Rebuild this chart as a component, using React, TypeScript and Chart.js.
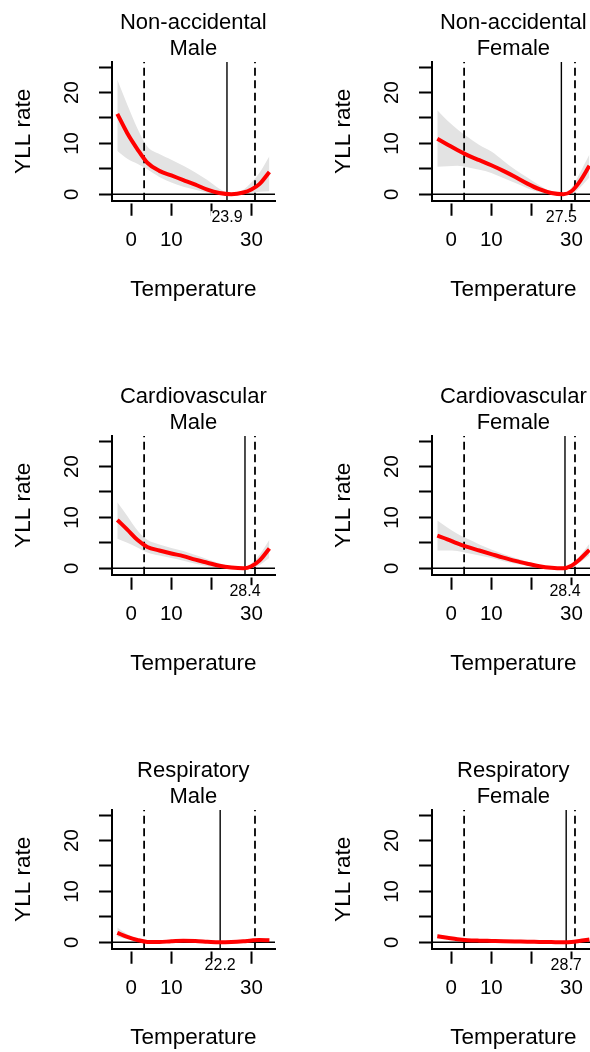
import React, { useEffect, useRef } from 'react';
import { Chart, registerables } from 'chart.js';

Chart.register(...registerables);
Chart.defaults.font.family = "'Liberation Sans', Arial, sans-serif";
Chart.defaults.color = '#000';

// ---- data ----
const TEMPS = [-3.5, -1, 1.5, 4, 7, 10, 13, 16, 19, 22, 25, 28, 30, 32, 34.5];

const CAUSES = ['Non-accidental', 'Non-accidental', 'Cardiovascular', 'Cardiovascular', 'Respiratory', 'Respiratory'];
const SEXES = ['Male', 'Female', 'Male', 'Female', 'Male', 'Female'];
const MMT = [23.9, 27.5, 28.4, 28.4, 22.2, 28.7];
const P_LOW = 3.2;
const P_HIGH = 30.9;

const NA_MALE_EST = [15.8, 12.0, 8.9, 6.2, 4.6, 3.7, 2.8, 1.9, 0.9, 0.25, 0.02, 0.35, 0.95, 2.0, 4.4];
const NA_MALE_HI = [22.5, 17.6, 13.0, 9.4, 7.9, 6.8, 5.6, 4.3, 2.8, 1.1, 0.1, 0.9, 2.3, 4.2, 7.5];
const NA_MALE_LO = [8.5, 7.0, 6.0, 4.9, 3.4, 2.3, 1.5, 0.9, 0.3, 0, 0, 0, 0.3, 0.5, 0.6];

const NA_FEMALE_EST = [10.9, 9.8, 8.7, 7.7, 6.7, 5.7, 4.6, 3.4, 2.1, 1.0, 0.25, 0.02, 0.6, 2.4, 5.6];
const NA_FEMALE_HI = [16.5, 14.5, 12.8, 11.3, 9.7, 8.4, 6.6, 4.8, 3.3, 1.8, 0.5, 0.1, 1.3, 4.0, 7.8];
const NA_FEMALE_LO = [5.4, 5.5, 5.6, 5.3, 4.8, 4.2, 3.2, 2.2, 1.2, 0.4, 0, 0, 0.1, 1.2, 3.3];

const CV_MALE_EST = [9.5, 7.6, 5.6, 4.2, 3.5, 2.9, 2.4, 1.7, 1.1, 0.5, 0.15, 0.0, 0.4, 1.5, 3.9];
const CV_MALE_HI = [13.0, 10.3, 7.5, 5.6, 4.7, 4.0, 3.4, 2.6, 1.8, 1.0, 0.4, 0.05, 1.0, 2.6, 5.6];
const CV_MALE_LO = [5.8, 5.0, 4.1, 3.1, 2.5, 2.0, 1.5, 0.9, 0.4, 0.1, 0, 0, 0.1, 0.6, 2.0];

const CV_FEMALE_EST = [6.4, 5.7, 4.9, 4.2, 3.5, 2.8, 2.1, 1.45, 0.9, 0.4, 0.1, 0.0, 0.5, 1.7, 3.6];
const CV_FEMALE_HI = [9.4, 8.0, 6.8, 5.8, 4.7, 3.7, 2.8, 2.0, 1.3, 0.7, 0.2, 0.05, 0.9, 2.3, 4.8];
const CV_FEMALE_LO = [3.5, 3.5, 3.4, 3.0, 2.5, 2.0, 1.4, 0.9, 0.5, 0.15, 0, 0, 0.2, 1.1, 2.5];

const RESP_MALE_EST = [1.85, 1.05, 0.45, 0.08, 0.05, 0.2, 0.28, 0.26, 0.12, 0.0, 0.05, 0.2, 0.35, 0.45, 0.4];
const RESP_MALE_HI = [2.9, 1.6, 0.75, 0.25, 0.2, 0.35, 0.45, 0.42, 0.25, 0.05, 0.15, 0.4, 0.65, 0.8, 0.85];
const RESP_MALE_LO = [1.1, 0.6, 0.25, 0.0, 0.0, 0.05, 0.1, 0.1, 0.0, 0.0, 0.0, 0.05, 0.1, 0.15, 0.05];

const RESP_FEMALE_EST = [1.2, 0.9, 0.6, 0.42, 0.32, 0.26, 0.2, 0.16, 0.13, 0.08, 0.04, 0.0, 0.05, 0.25, 0.55];
const RESP_FEMALE_HI = [1.65, 1.15, 0.8, 0.6, 0.45, 0.38, 0.3, 0.25, 0.22, 0.16, 0.1, 0.02, 0.15, 0.45, 0.85];
const RESP_FEMALE_LO = [0.8, 0.65, 0.45, 0.28, 0.2, 0.15, 0.1, 0.08, 0.05, 0.02, 0, 0, 0, 0.1, 0.3];

const EST = [NA_MALE_EST, NA_FEMALE_EST, CV_MALE_EST, CV_FEMALE_EST, RESP_MALE_EST, RESP_FEMALE_EST];
const HI = [NA_MALE_HI, NA_FEMALE_HI, CV_MALE_HI, CV_FEMALE_HI, RESP_MALE_HI, RESP_FEMALE_HI];
const LO = [NA_MALE_LO, NA_FEMALE_LO, CV_MALE_LO, CV_FEMALE_LO, RESP_MALE_LO, RESP_FEMALE_LO];

const X_TICKS = [0, 10, 20, 30];
const X_TICK_LABELS = ['0', '10', '', '30'];
const Y_TICKS = [0, 5, 10, 15, 20, 25];
const Y_TICK_LABELS = ['0', '', '10', '', '20', ''];
const X_MIN = -4.9;
const X_MAX = 35.9;
const Y_MIN = -1.26;
const Y_MAX = 26.0;

// ---- layout ----
const PANEL_W = 321;
const PANEL_H = 374;
const COL_LEFT = [0, 320];
const ROW_TOP = [0, 374, 748];

const mmtLabelPlugin = {
  id: 'mmtLabel',
  afterDraw(chart: any, _args: any, opts: any) {
    const { ctx, chartArea, scales } = chart;
    const v = opts.value as number;
    const x = scales.x.getPixelForValue(v);
    const y = chartArea.bottom + 17;
    const txt = v.toFixed(1);
    ctx.save();
    ctx.font = "16px 'Liberation Sans', Arial, sans-serif";
    const w = ctx.measureText(txt).width;
    ctx.fillStyle = '#fff';
    ctx.fillRect(x - w / 2 - 1, chartArea.bottom + 10.5, w + 2, 14);
    ctx.fillStyle = '#000';
    ctx.textAlign = 'center';
    ctx.textBaseline = 'middle';
    ctx.fillText(txt, x, y);
    ctx.restore();
  },
};

function buildConfig(i: number): any {
  const pts = (arr: number[]) => TEMPS.map((t, k) => ({ x: t, y: arr[k] }));
  const vline = (v: number) => [{ x: v, y: Y_MIN }, { x: v, y: Y_MAX }];
  return {
    type: 'line',
    data: {
      datasets: [
        {
          data: pts(EST[i]),
          borderColor: '#ff0000',
          borderWidth: 4,
          pointRadius: 0,
          cubicInterpolationMode: 'monotone',
          fill: false,
          order: 0,
        },
        {
          data: vline(P_LOW),
          borderColor: '#000',
          borderWidth: 1.8,
          borderDash: [8, 4.5],
          pointRadius: 0,
          tension: 0,
          fill: false,
          order: 1,
        },
        {
          data: vline(P_HIGH),
          borderColor: '#000',
          borderWidth: 1.8,
          borderDash: [8, 4.5],
          pointRadius: 0,
          tension: 0,
          fill: false,
          order: 1,
        },
        {
          data: vline(MMT[i]),
          borderColor: '#000',
          borderWidth: 1.4,
          pointRadius: 0,
          tension: 0,
          fill: false,
          order: 1,
        },
        {
          data: [{ x: X_MIN, y: 0 }, { x: X_MAX, y: 0 }],
          borderColor: '#000',
          borderWidth: 1.6,
          pointRadius: 0,
          tension: 0,
          fill: false,
          order: 2,
        },
        {
          data: pts(HI[i]),
          borderWidth: 0,
          borderColor: 'rgba(0,0,0,0)',
          backgroundColor: '#e3e3e3',
          pointRadius: 0,
          cubicInterpolationMode: 'monotone',
          fill: '+1',
          order: 3,
        },
        {
          data: pts(LO[i]),
          borderWidth: 0,
          borderColor: 'rgba(0,0,0,0)',
          pointRadius: 0,
          cubicInterpolationMode: 'monotone',
          fill: false,
          order: 4,
        },
      ],
    },
    options: {
      responsive: false,
      animation: false,
      devicePixelRatio: 1,
      layout: { padding: { left: 0, right: 46, top: 0, bottom: 0 } },
      plugins: {
        legend: { display: false },
        tooltip: { enabled: false },
        title: {
          display: true,
          fullSize: false,
          text: [CAUSES[i], SEXES[i]],
          font: { size: 22, weight: 'normal', lineHeight: 26 / 22 },
          color: '#000',
          padding: { top: 10, bottom: 0 },
        },
        mmtLabel: { value: MMT[i] },
      },
      scales: {
        x: {
          type: 'linear',
          position: 'bottom',
          min: X_MIN,
          max: X_MAX,
          afterBuildTicks: (s: any) => {
            s.ticks = X_TICKS.map((v) => ({ value: v }));
          },
          afterFit: (s: any) => {
            s.height = 173.3;
          },
          border: { display: true, color: '#000', width: 2 },
          grid: {
            drawOnChartArea: false,
            drawTicks: true,
            tickLength: 15,
            tickWidth: 2,
            tickColor: '#000',
            tickBorderDash: [0, 1.5, 40, 0],
          },
          ticks: {
            autoSkip: false,
            maxRotation: 0,
            minRotation: 0,
            padding: 12.7,
            color: '#000',
            font: { size: 20.5 },
            callback: (v: number) => {
              const k = X_TICKS.indexOf(v);
              return k >= 0 ? X_TICK_LABELS[k] : '';
            },
          },
          title: {
            display: true,
            text: 'Temperature',
            color: '#000',
            font: { size: 22.5 },
            padding: { top: 0, bottom: 70.5 },
          },
        },
        y: {
          type: 'linear',
          position: 'left',
          min: Y_MIN,
          max: Y_MAX,
          afterBuildTicks: (s: any) => {
            s.ticks = Y_TICKS.map((v) => ({ value: v }));
          },
          afterFit: (s: any) => {
            s.width = 111.7;
          },
          border: { display: true, color: '#000', width: 2 },
          grid: {
            drawOnChartArea: false,
            drawTicks: true,
            tickLength: 12.7,
            tickWidth: 2,
            tickColor: '#000',
          },
          ticks: {
            autoSkip: false,
            minRotation: 90,
            maxRotation: 90,
            crossAlign: 'center',
            padding: 15.2,
            color: '#000',
            font: { size: 20.5 },
            callback: (v: number) => {
              const k = Y_TICKS.indexOf(v);
              return k >= 0 ? Y_TICK_LABELS[k] : '';
            },
          },
          title: {
            display: true,
            text: 'YLL rate',
            color: '#000',
            font: { size: 22.5 },
            padding: { top: 9.8, bottom: 0 },
          },
        },
      },
    },
    plugins: [mmtLabelPlugin],
  };
}

function Panel({ idx, left, top }: { idx: number; left: number; top: number }) {
  const ref = useRef<HTMLCanvasElement>(null);
  useEffect(() => {
    const chart = new Chart(ref.current as HTMLCanvasElement, buildConfig(idx));
    return () => chart.destroy();
  }, [idx]);
  return (
    <canvas
      ref={ref}
      width={PANEL_W}
      height={PANEL_H}
      style={{ position: 'absolute', left, top, width: PANEL_W, height: PANEL_H }}
    />
  );
}

export default function App() {
  const panels = CAUSES.map((_, i) => ({
    idx: i,
    left: COL_LEFT[i % 2],
    top: ROW_TOP[Math.floor(i / 2)],
  }));
  return (
    <div
      style={{
        position: 'absolute',
        left: 0,
        top: 0,
        width: 590,
        height: 1052,
        overflow: 'hidden',
        background: '#fff',
      }}
    >
      {panels.map((p) => (
        <Panel key={p.idx} idx={p.idx} left={p.left} top={p.top} />
      ))}
    </div>
  );
}
